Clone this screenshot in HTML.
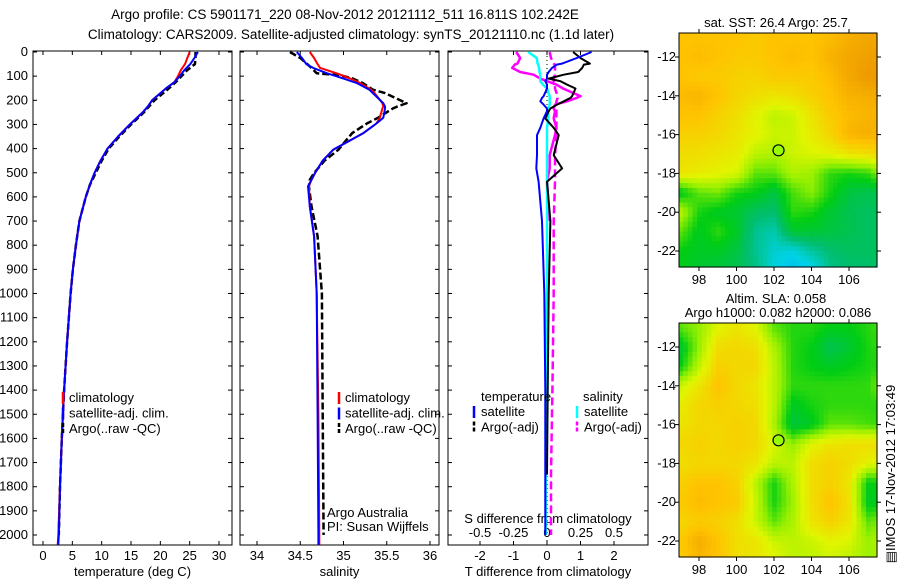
<!DOCTYPE html>
<html><head><meta charset="utf-8">
<style>
body{margin:0;background:#fff;width:900px;height:580px;overflow:hidden}
svg{font-family:"Liberation Sans",sans-serif;font-size:13px}
</style></head><body>
<svg id="chart" width="900" height="580" viewBox="0 0 900 580" xmlns="http://www.w3.org/2000/svg">
<text x="345" y="19" text-anchor="middle" font-size="13.5">Argo profile: CS 5901171_220 08-Nov-2012 20121112_511 16.811S 102.242E</text>
<text x="351" y="39" text-anchor="middle" font-size="13.5">Climatology: CARS2009. Satellite-adjusted climatology: synTS_20121110.nc (1.1d later)</text>
<g id="g"></g>
</svg>
<script>
// ---------- data ----------
const depths=[0,25,50,75,100,125,150,200,225,250,300,350,400,450,500,550,600,700,800,900,1000,1200,1400,1600,1800,2000,2040];
const tempClim=[25.0,24.6,24.2,23.5,23.0,22.4,21.0,18.6,17.9,17.0,14.8,12.8,11.0,9.8,8.8,8.0,7.3,6.2,5.6,5.1,4.7,4.1,3.6,3.2,2.9,2.6,2.5];
const tempSat=[26.4,25.8,25.1,24.1,23.3,22.4,21.0,18.6,17.9,17.0,14.8,12.8,11.0,9.8,8.8,8.0,7.3,6.2,5.6,5.1,4.7,4.1,3.6,3.2,2.9,2.7,2.6];
const tempArgo=[26.0,26.0,25.9,24.6,23.6,22.6,21.5,19.0,18.1,17.2,15.0,13.0,11.2,10.0,9.0,8.0,7.3,6.2,5.6,5.1,4.7,4.1,3.6,3.2,2.9,2.7];
const salDepths=[0,25,50,66,88,96,110,128,156,170,212,226,234,272,296,336,405,450,501,529,556,639,763,1000,1500,2000,2040];
const salClim=[34.61,34.66,34.70,34.73,34.92,34.98,35.08,35.19,35.32,35.36,35.45,35.46,35.45,35.42,35.38,35.23,34.88,34.76,34.67,34.63,34.60,34.61,34.66,34.69,34.71,34.72,34.72];
const salSat=[34.46,34.52,34.57,34.65,34.81,34.88,35.00,35.15,35.30,35.34,35.46,35.48,35.48,35.46,35.38,35.23,34.88,34.76,34.67,34.63,34.59,34.61,34.66,34.69,34.70,34.71,34.71];
const salArgo=[34.38,34.50,34.58,34.63,34.69,34.96,35.11,35.22,35.34,35.48,35.73,35.62,35.57,35.40,35.27,35.10,34.94,34.78,34.66,34.61,34.60,34.63,34.70,34.75,34.76,34.77];
const diffDepths=[0,25,48,52,66,83,94,110,121,135,151,183,190,204,218,234,245,275,314,344,427,482,537,700,1000,1400,1750,2000];
const tDiffSat=[1.33,0.89,0.45,0.29,0.15,0.05,0.0,0.0,-0.05,0.0,0.0,-0.1,-0.15,-0.2,-0.1,0.0,0.0,-0.1,-0.2,-0.3,-0.3,-0.32,-0.25,-0.15,-0.08,-0.05,-0.05,-0.05];
const tDiffArgo=[0.78,1.0,1.28,1.1,1.05,0.93,0.5,0.05,0.4,0.6,0.85,0.75,0.7,0.5,0.3,0.1,0.05,-0.05,0.2,0.35,0.2,0.45,0.0,0.1,0.05,0.02,0.0];
const sDiffSat=[-0.14,-0.077,-0.07,-0.065,-0.06,-0.055,-0.05,-0.05,-0.05,-0.03,0.0,0.02,0.02,0.02,0.02,0.01,0.01,0.01,0.0,0.0,0.0,0.0,0.0,0.0,0.0,-0.01,-0.01,-0.01];
const sDiffArgo=[-0.23,-0.2,-0.22,-0.24,-0.26,-0.2,-0.1,-0.05,0.0,0.07,0.12,0.25,0.22,0.15,0.06,0.05,0.06,0.05,0.07,0.06,0.02,0.02,0.0,0.02];
const sDiffArgoAdj=[0.02,0.03,0.05,0.06,0.06,0.06,0.06,0.05,0.05,0.06,0.06,0.08,0.08,0.07,0.07,0.07,0.07,0.07,0.07,0.07,0.06,0.06,0.06,0.05,0.05,0.04,0.03,0.03];
const depthTicks=[0,100,200,300,400,500,600,700,800,900,1000,1100,1200,1300,1400,1500,1600,1700,1800,1900,2000];
const tempTicks=[0,5,10,15,20,25,30];
const salTicks=[34,34.5,35,35.5,36];
const tDiffTicks=[-2,-1,0,1,2];
const sDiffTicks=[-0.5,-0.25,0,0.25,0.5];
const sstGrid=[
[0.8,0.8,0.8,0.8,0.78,0.8,0.8,0.8,0.82,0.86,0.88,0.88],
[0.8,0.82,0.8,0.78,0.78,0.8,0.82,0.8,0.85,0.88,0.9,0.9],
[0.8,0.78,0.78,0.76,0.75,0.78,0.78,0.78,0.82,0.88,0.92,0.9],
[0.82,0.84,0.8,0.75,0.72,0.7,0.72,0.76,0.8,0.85,0.86,0.88],
[0.8,0.8,0.76,0.72,0.66,0.6,0.62,0.7,0.78,0.82,0.84,0.84],
[0.76,0.76,0.74,0.7,0.66,0.62,0.62,0.68,0.75,0.84,0.86,0.84],
[0.72,0.72,0.7,0.68,0.6,0.58,0.62,0.64,0.66,0.7,0.72,0.74],
[0.7,0.68,0.66,0.64,0.5,0.5,0.58,0.56,0.46,0.44,0.46,0.6],
[0.4,0.5,0.52,0.44,0.42,0.36,0.48,0.54,0.44,0.36,0.34,0.36],
[0.6,0.44,0.4,0.38,0.32,0.3,0.46,0.44,0.38,0.34,0.32,0.34],
[0.5,0.4,0.46,0.4,0.26,0.22,0.38,0.38,0.36,0.34,0.32,0.34],
[0.42,0.4,0.4,0.36,0.26,0.18,0.16,0.24,0.3,0.32,0.32,0.34],
[0.42,0.38,0.36,0.34,0.28,0.16,0.1,0.12,0.26,0.3,0.3,0.32]];
const slaGrid=[
[0.5,0.55,0.65,0.7,0.65,0.5,0.45,0.45,0.42,0.42,0.45,0.5],
[0.38,0.55,0.72,0.74,0.72,0.58,0.45,0.42,0.34,0.38,0.44,0.48],
[0.42,0.6,0.76,0.74,0.74,0.6,0.45,0.42,0.4,0.42,0.44,0.46],
[0.62,0.7,0.8,0.74,0.7,0.6,0.46,0.46,0.46,0.46,0.46,0.58],
[0.68,0.74,0.76,0.74,0.72,0.6,0.4,0.44,0.46,0.46,0.46,0.44],
[0.7,0.74,0.74,0.76,0.74,0.58,0.36,0.4,0.5,0.5,0.48,0.46],
[0.74,0.76,0.74,0.76,0.74,0.64,0.55,0.65,0.7,0.72,0.72,0.72],
[0.72,0.74,0.74,0.74,0.7,0.6,0.6,0.72,0.76,0.72,0.66,0.64],
[0.76,0.8,0.8,0.76,0.6,0.44,0.58,0.72,0.76,0.7,0.42,0.44],
[0.78,0.82,0.8,0.78,0.62,0.44,0.56,0.72,0.8,0.72,0.4,0.42],
[0.74,0.78,0.76,0.72,0.62,0.5,0.58,0.7,0.76,0.7,0.5,0.55],
[0.78,0.86,0.8,0.72,0.7,0.62,0.6,0.62,0.66,0.64,0.56,0.6],
[0.76,0.84,0.8,0.72,0.7,0.66,0.6,0.6,0.62,0.6,0.56,0.58]];
const lonTicks=[98,100,102,104,106];
const latTicks=[-12,-14,-16,-18,-20,-22];
const argoPos=[102.242,-16.811];

// ---------- helpers ----------
const NS="http://www.w3.org/2000/svg";
const G=document.getElementById('g');
function el(tag,at,parent){const e=document.createElementNS(NS,tag);for(const k in at)e.setAttribute(k,at[k]);(parent||G).appendChild(e);return e;}
function txt(s,x,y,anchor,name,size){const t=el('text',{x:x,y:y,'text-anchor':anchor||'middle'});if(size)t.setAttribute('font-size',size);t.textContent=s;


return t;}
const TOP=52,BOT=545;
const yD=d=>TOP+d*0.2415;
function lin(d0,d1,p0,p1){return v=>p0+(v-d0)*(p1-p0)/(d1-d0);}
const xT=lin(0,30,43,219), xS=lin(34,36,257,430), xTd=lin(-2,2,480,614), xSd=lin(-0.5,0.5,480,614);

function line(xs,ds,sx,color,w,dash,name){
  let p='';const n=Math.min(xs.length,ds.length);
  for(let i=0;i<n;i++)p+=(i?'L':'M')+sx(xs[i]).toFixed(1)+','+yD(ds[i]).toFixed(1);
  const e=el('path',{d:p,fill:'none',stroke:color,'stroke-width':w,'stroke-dasharray':dash||'none','stroke-linejoin':'round'});
  
  
}
function panel(x0,x1,name,ticks,sx,labelTicks,xlabel,showY){
  const r=el('rect',{x:x0,y:TOP-1,width:x1-x0,height:BOT-TOP+1,fill:'none',stroke:'#000','stroke-width':1});
  
  
  depthTicks.forEach(d=>{const y=yD(d);el('line',{x1:x0,x2:x0+4,y1:y,y2:y,stroke:'#000'});el('line',{x1:x1-4,x2:x1,y1:y,y2:y,stroke:'#000'});
    if(showY)txt(String(d),28,y+4,'end','depth-tick-label');});
  ticks.forEach(v=>{const x=sx(v);el('line',{x1:x,x2:x,y1:BOT,y2:BOT-4,stroke:'#000'});el('line',{x1:x,x2:x,y1:TOP-1,y2:TOP+3,stroke:'#000'});
    if(labelTicks)txt(String(v),x,560,'middle','x-tick-label');});
  txt(xlabel,(x0+x1)/2,576,'middle',name+'-x-axis-title');
}
// ---------- panel 1 temperature ----------
panel(33,232,'temperature-panel',tempTicks,xT,true,'temperature (deg C)',true);
line(tempArgo,depths,xT,'#000',2.5,'6,3','temp-argo');
line(tempClim,depths,xT,'#f00',2,null,'temp-climatology');
line(tempSat,depths,xT,'#00f',2,null,'temp-satellite');
function legend(x,y,name){
  const items=[['#f00','climatology',null],['#00f','satellite-adj. clim.',null],['#000','Argo(..raw -QC)','4,2']];
  items.forEach((it,i)=>{const yy=y+i*15.5;el('line',{x1:x,x2:x,y1:yy-10,y2:yy+2,stroke:it[0],'stroke-width':2.5,'stroke-dasharray':it[2]||'none'});
    txt(it[1],x+6,yy,'start',name+'-entry');});
}
legend(63,402,'temperature-legend');
// ---------- panel 2 salinity ----------
panel(240,439,'salinity-panel',salTicks,xS,true,'salinity',false);
line(salArgo,salDepths,xS,'#000',2.5,'7,3','sal-argo');
line(salClim,salDepths,xS,'#f00',2,null,'sal-climatology');
line(salSat,salDepths,xS,'#00f',2,null,'sal-satellite');
legend(339,402,'salinity-legend');
txt('Argo Australia',327,517,'start','credit-argo-australia');
txt('PI: Susan Wijffels',327,531,'start','credit-pi');
// ---------- panel 3 differences ----------
panel(448,648,'difference-panel',tDiffTicks,xTd,true,'T difference from climatology',false);
el('line',{x1:xTd(0),x2:xTd(0),y1:TOP,y2:BOT,stroke:'#000','stroke-dasharray':'1,3'});
sDiffTicks.forEach(v=>txt(String(v),xSd(v),537,'middle','s-diff-tick-label'));
txt('S difference from climatology',548,523,'middle','s-diff-axis-title');
line(sDiffArgoAdj,diffDepths,xSd,'#f0f',2.5,'8,4','sdiff-argo-adj');
line(sDiffArgo,diffDepths,xSd,'#f0f',2.5,null,'sdiff-argo');
line(sDiffSat,diffDepths,xSd,'#0ff',2.5,null,'sdiff-satellite');
line(tDiffArgo,diffDepths,xTd,'#000',2,null,'tdiff-argo');
line(tDiffSat,diffDepths,xTd,'#00f',2,null,'tdiff-satellite');
txt('temperature',481,401,'start','diff-legend-temperature-header');
txt('salinity',583,401,'start','diff-legend-salinity-header');
[[474,'#00f','satellite',null],[474,'#000','Argo(-adj)','4,2'],[577,'#0ff','satellite',null],[577,'#f0f','Argo(-adj)','4,2']].forEach((it,i)=>{
  const yy=416+(i%2)*15.5;el('line',{x1:it[0],x2:it[0],y1:yy-10,y2:yy+2,stroke:it[1],'stroke-width':2.5,'stroke-dasharray':it[3]||'none'});
  txt(it[2],it[0]+7,yy,'start','diff-legend-entry');});
// ---------- maps ----------
const stops=[[0,[0,150,255]],[0.15,[0,210,230]],[0.3,[0,190,110]],[0.42,[0,205,20]],[0.55,[150,240,0]],[0.65,[225,245,0]],[0.8,[255,195,0]],[1,[225,125,0]]];
function cmap(v){v=Math.max(0,Math.min(1,v));for(let i=1;i<stops.length;i++){if(v<=stops[i][0]){const a=stops[i-1],b=stops[i],t=(v-a[0])/(b[0]-a[0]);return 'rgb('+a[1].map((c,k)=>Math.round(c+(b[1][k]-c)*t)).join(',')+')';}}return 'rgb(225,125,0)';}
function interp(grid,lon,lat){const c=Math.max(0,Math.min(10.999,lon-97)),r=Math.max(0,Math.min(11.999,-11-lat));const i=Math.floor(r),j=Math.floor(c),fr=r-i,fc=c-j;
  return grid[i][j]*(1-fr)*(1-fc)+grid[i][j+1]*(1-fr)*fc+grid[i+1][j]*fr*(1-fc)+grid[i+1][j+1]*fr*fc;}
function map(grid,y0,name){
  const x0=679,x1=877,y1=y0+234;
  const sx=lin(98,106,699,849),sy=lin(-12,-22,y0+24,y0+218);
  const g=el('g',{});
  const step=0.25;
  for(let lat=-10.75;lat>-23;lat-=step){for(let lon=96.9;lon<107.6;lon+=step){
    const xa=Math.max(x0,sx(lon)),xb=Math.min(x1,sx(lon+step)),ya=Math.max(y0,sy(lat)),yb=Math.min(y1,sy(lat-step));
    if(xb<=xa||yb<=ya)continue;
    el('rect',{x:xa.toFixed(1),y:ya.toFixed(1),width:(xb-xa+0.6).toFixed(1),height:(yb-ya+0.6).toFixed(1),fill:cmap(interp(grid,lon+step/2,lat-step/2))},g);}}
  const fr=el('rect',{x:x0,y:y0,width:x1-x0,height:y1-y0,fill:'none',stroke:'#000'});
  
  lonTicks.forEach(v=>{const x=sx(v);el('line',{x1:x,x2:x,y1:y0-4,y2:y0,stroke:'#000'});el('line',{x1:x,x2:x,y1:y1,y2:y1+4,stroke:'#000'});txt(String(v),x,y1+17,'middle','lon-tick-label');});
  latTicks.forEach(v=>{const y=sy(v);el('line',{x1:x0-4,x2:x0,y1:y,y2:y,stroke:'#000'});el('line',{x1:x1,x2:x1+4,y1:y,y2:y,stroke:'#000'});txt(String(v),x0-3,y+4,'end','lat-tick-label');});
  const c=el('circle',{cx:sx(argoPos[0]),cy:sy(argoPos[1]),r:5.5,fill:'#9f0',stroke:'#000','stroke-width':1.2});
  
}
map(sstGrid,33,'sst-map');
map(slaGrid,323,'sla-map');
txt('sat. SST: 26.4  Argo: 25.7',776,27,'middle','sst-map-title');
txt('Altim. SLA: 0.058',776,303,'middle','sla-map-title-1');
txt('Argo h1000: 0.082  h2000: 0.086',778,317,'middle','sla-map-title-2');
const v=txt('\u25A4IMOS 17-Nov-2012 17:03:49',0,0,'middle','imos-timestamp');
v.setAttribute('transform','translate(895,474) rotate(-90)');
</script>
</body></html>
